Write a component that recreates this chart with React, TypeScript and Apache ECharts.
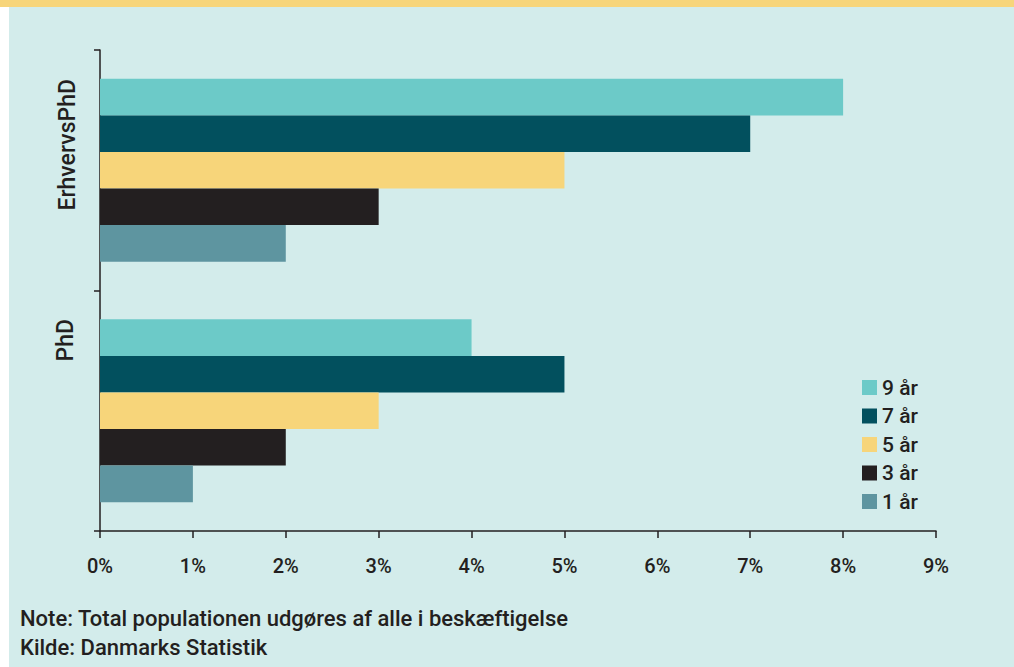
import React, { useEffect, useRef } from "react";
import * as echarts from "echarts";

const categories = ["ErhvervsPhD", "PhD"];
const seriesNames = ["9 år", "7 år", "5 år", "3 år", "1 år"];
const values9 = [8, 4];
const values7 = [7, 5];
const values5 = [5, 3];
const values3 = [3, 2];
const values1 = [2, 1];
const xTicks = [0, 1, 2, 3, 4, 5, 6, 7, 8, 9];
const noteLines = [
  "Note: Total populationen udgøres af alle i beskæftigelse",
  "Kilde: Danmarks Statistik",
];

const colors = ["#6ccac8", "#02505e", "#f7d57a", "#231f20", "#5e95a0"];
const textColor = "#231f20";
const font = "Roboto, 'DejaVu Sans', sans-serif";

export default function App() {
  const ref = useRef<HTMLDivElement>(null);
  useEffect(() => {
    if (!ref.current) return;
    const chart = echarts.init(ref.current, null, { renderer: "svg" });
    const allValues = [values9, values7, values5, values3, values1];
    chart.setOption({
      animation: false,
      backgroundColor: "#d3eceb",
      textStyle: { fontFamily: font },
      grid: { left: 100, right: 78, top: 50, bottom: 136, containLabel: false },
      legend: {
        orient: "vertical",
        left: 862,
        top: 377,
        padding: 0,
        itemWidth: 15,
        itemHeight: 15,
        itemGap: 7.5,
        icon: "rect",
        data: seriesNames,
        textStyle: { fontSize: 21, color: textColor, fontWeight: 500, fontFamily: font },
      },
      xAxis: {
        type: "value",
        min: xTicks[0],
        max: xTicks[xTicks.length - 1],
        interval: 1,
        splitLine: { show: false },
        axisLine: { show: true, lineStyle: { color: textColor, width: 1.5 } },
        axisTick: { show: true, length: 7, lineStyle: { color: textColor, width: 1.5 } },
        axisLabel: {
          formatter: "{value}%",
          fontSize: 20,
          fontWeight: 500,
          color: textColor,
          margin: 25,
          fontFamily: font,
        },
      },
      yAxis: {
        type: "category",
        inverse: true,
        data: categories,
        axisLine: { show: true, lineStyle: { color: textColor, width: 1.5 } },
        axisTick: { show: true, length: 6, lineStyle: { color: textColor, width: 1.5 } },
        axisLabel: { show: false },
        splitLine: { show: false },
      },
      series: seriesNames.map((name, i) => ({
        name,
        type: "bar",
        data: allValues[i],
        barCategoryGap: "24%",
        barGap: "0%",
        itemStyle: { color: colors[i] },
      })),
      graphic: [
        { type: "rect", shape: { x: 0, y: 0, width: 1014, height: 7 }, style: { fill: "#f7d57a" } },
        { type: "rect", shape: { x: 0, y: 7, width: 9, height: 660 }, style: { fill: "#ffffff" } },
        {
          type: "text",
          x: 67,
          y: 79,
          rotation: Math.PI / 2,
          style: {
            text: categories[0],
            fontSize: 23,
            fontWeight: 500,
            fontFamily: font,
            fill: textColor,
            align: "right",
            verticalAlign: "middle",
          },
        },
        {
          type: "text",
          x: 65,
          y: 319,
          rotation: Math.PI / 2,
          style: {
            text: categories[1],
            fontSize: 23,
            fontWeight: 500,
            fontFamily: font,
            fill: textColor,
            align: "right",
            verticalAlign: "middle",
          },
        },
        ...noteLines.map((t, i) => ({
          type: "text",
          left: 20,
          top: 607 + i * 29,
          style: {
            text: t,
            fontSize: 22,
            fontWeight: 500,
            fontFamily: font,
            fill: textColor,
          },
        })),
      ],
    });
    return () => chart.dispose();
  }, []);
  return (
    <div
      ref={ref}
      style={{ position: "absolute", left: 0, top: 0, width: 1014, height: 667, background: "#fff" }}
    />
  );
}
